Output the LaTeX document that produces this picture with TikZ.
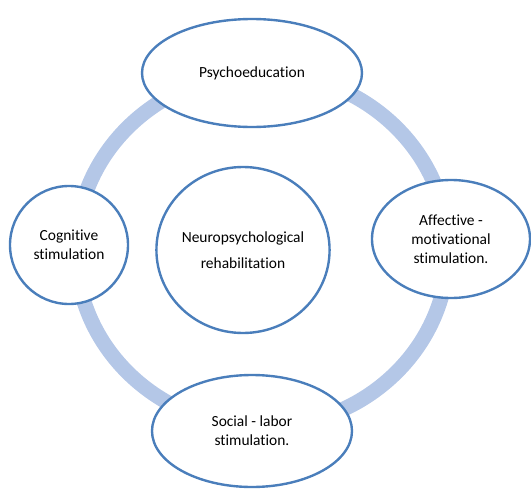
\documentclass[tikz,border=0pt]{standalone}
\usepackage{fontspec}
\setmainfont{Carlito}[Ligatures=NoCommon]
\usetikzlibrary{shapes.geometric}

\definecolor{ringblue}{HTML}{B4C7E7}
\definecolor{edgeblue}{HTML}{4A7EBB}

\tikzset{
	bubble/.style={ellipse, draw=edgeblue, line width=1.7pt, fill=white,
		inner sep=0pt, align=center,
		font=\fontsize{11}{13.4}\selectfont}
}

\begin{document}
\begin{tikzpicture}

	\useasboundingbox (-6.55,-5.95) rectangle (6.725,6.25);

	% Cycle ring behind the bubbles
	\draw[ringblue, line width=0.375cm] (0,0) ellipse (4.65cm and 4.425cm);

	% Outer stages
	\node[bubble, minimum width=5.5cm, minimum height=2.7cm] (psycho) at (-0.25,4.425) {Psychoeducation};
	\node[bubble, minimum width=2.95cm, minimum height=2.95cm] (cognitive) at (-4.825,0.125) {Cognitive\\stimulation};
	\node[bubble, minimum width=3.95cm, minimum height=2.95cm] (affective) at (4.725,0.275) {Affective -\\motivational\\stimulation.};
	\node[bubble, minimum width=5.0cm, minimum height=2.8cm] (social) at (-0.25,-4.525) {Social - labor\\stimulation.};

	% Centre
	\node[bubble, minimum width=4.3cm, minimum height=4.15cm] (rehab) at (-0.475,0) {Neuropsychological\\[5pt]rehabilitation};

\end{tikzpicture}
\end{document}
